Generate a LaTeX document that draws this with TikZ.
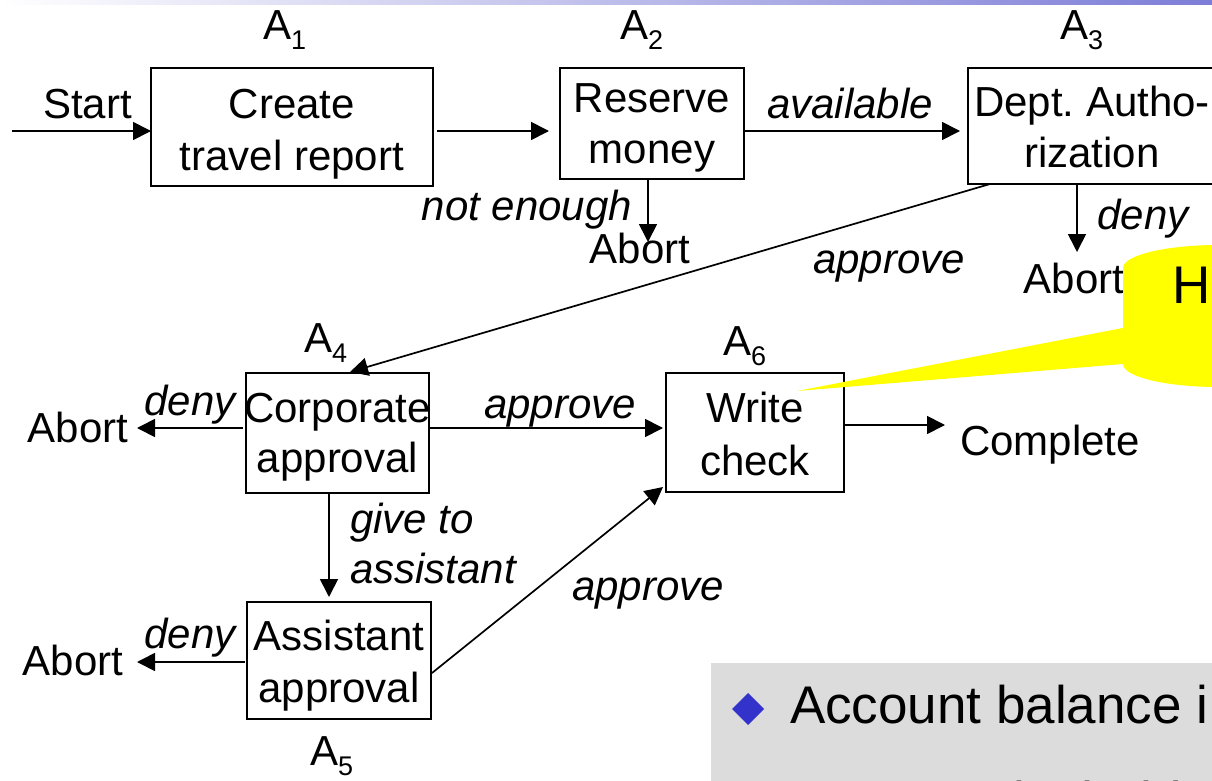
\documentclass[tikz,border=0pt]{standalone}
\usepackage{fontspec}
\setmainfont{Liberation Sans}
\usetikzlibrary{arrows.meta}
\frenchspacing

\definecolor{barblue}{RGB}{125,125,215}
\definecolor{notegray}{RGB}{220,220,220}
\definecolor{bulletblue}{RGB}{51,51,204}
\definecolor{calloutyellow}{RGB}{255,255,0}

\tikzset{
  box/.style={draw, line width=1.8pt, inner sep=0pt, outer sep=0pt},
  txt/.style={inner sep=0pt, outer sep=0pt, font=\fontsize{42}{52}\selectfont},
  lbl/.style={inner sep=0pt, outer sep=0pt, font=\fontsize{42}{52}\selectfont\itshape},
  big/.style={inner sep=0pt, outer sep=0pt, font=\fontsize{53}{62}\selectfont},
  conn/.style={line width=1.7pt, -{Triangle[length=18pt,width=18pt]}},
}
\newcommand{\actname}[1]{A\raisebox{-10pt}{\fontsize{27}{27}\selectfont #1}}

\begin{document}
\begin{tikzpicture}[x=1pt,y=-1pt]
\useasboundingbox (0,0) rectangle (1212,781);
\clip (0,0) rectangle (1212,781);

% header bar
\shade[left color=white, right color=barblue] (0,0) rectangle (1212,5);

% activity boxes
\node[box, minimum width=282pt, minimum height=118pt] (a1) at (292,127) {};
\node[box, minimum width=184pt, minimum height=111pt] (a2) at (652,123.5) {};
\node[box, minimum width=248pt, minimum height=116pt] (a3) at (1092,126) {};
\node[box, minimum width=183pt, minimum height=120pt] (a4) at (337.5,433) {};
\node[box, minimum width=178pt, minimum height=119pt] (a6) at (755,432.5) {};
\node[box, minimum width=184pt, minimum height=117pt] (a5) at (339,660.5) {};

% box texts
\node[txt, anchor=base] (a1t1) at (292,118) {Create};
\node[txt, anchor=base] (a1t2) at (292,170) {travel report};
\node[txt, anchor=base] (a2t1) at (652,113) {Reserve};
\node[txt, anchor=base] (a2t2) at (652,164) {money};
\node[txt, anchor=base] (a3t1) at (1092,117) {Dept.\ Autho-};
\node[txt, anchor=base] (a3t2) at (1092,167) {rization};
\node[txt, anchor=base] (a4t1) at (337.5,422) {Corporate};
\node[txt, anchor=base] (a4t2) at (337.5,472) {approval};
\node[txt, anchor=base] (a6t1) at (755,422) {Write};
\node[txt, anchor=base] (a6t2) at (755,475) {check};
\node[txt, anchor=base] (a5t1) at (339,650) {Assistant};
\node[txt, anchor=base] (a5t2) at (339,702) {approval};

% activity names
\node[txt, anchor=base west] (n1) at (263,40) {\actname{1}};
\node[txt, anchor=base west] (n2) at (620,40) {\actname{2}};
\node[txt, anchor=base west] (n3) at (1060,40) {\actname{3}};
\node[txt, anchor=base west] (n4) at (304,352) {\actname{4}};
\node[txt, anchor=base west] (n6) at (723,355) {\actname{6}};
\node[txt, anchor=base west] (n5) at (310,765) {\actname{5}};

% plain end points
\node[txt, anchor=base east] (start) at (132,118) {Start};
\node[txt, anchor=base] (ab2) at (640,263) {Abort};
\node[txt, anchor=base] (ab3) at (1074,293) {Abort};
\node[txt, anchor=base] (ab4) at (78,442) {Abort};
\node[txt, anchor=base] (ab5) at (73,675) {Abort};
\node[txt, anchor=base west] (done) at (960,455) {Complete};

% edge labels
\node[lbl, anchor=base] (lav) at (850,118) {available};
\node[lbl, anchor=base east] (lne) at (632,220) {not enough};
\node[lbl, anchor=base] (ld3) at (1143,229) {deny};
\node[lbl, anchor=base] (lap3) at (889,273) {approve};
\node[lbl, anchor=base] (ld4) at (190,415) {deny};
\node[lbl, anchor=base] (lap4) at (560,418) {approve};
\node[lbl, anchor=base west] (lg1) at (350,533) {give to};
\node[lbl, anchor=base west] (lg2) at (350,583) {assistant};
\node[lbl, anchor=base west] (lap5) at (572,600) {approve};
\node[lbl, anchor=base] (ld5) at (190,648) {deny};

% connectors
\coordinate (entry) at (12,131);
\draw[conn] (entry) -- (a1.west |- entry);
\draw[conn] ([shift={(4,4)}]a1.east) -- ([shift={(-11,7.5)}]a2.west);
\draw[conn] ([shift={(1,7.5)}]a2.east) -- ([shift={(-8,5)}]a3.west);
\draw[conn] ([shift={(-4,0)}]a2.south) -- ([shift={(8,-21)}]ab2.base);
\draw[conn] ([shift={(-15,0)}]a3.south) -- ([shift={(3,-41)}]ab3.base);
\draw[conn] ([shift={(-102,0)}]a3.south) -- ([shift={(12.5,-1)}]a4.north);
\draw[conn] ([shift={(-3,-5)}]a4.west) -- ([shift={(59,-14)}]ab4.base);
\draw[conn] ([shift={(0,-5)}]a4.east) -- ([shift={(-3,-4.5)}]a6.west);
\draw[conn] ([shift={(-8.5,0)}]a4.south) -- ([shift={(-10,-5)}]a5.north);
\draw[conn] ([shift={(-2,1.5)}]a5.west) -- ([shift={(64,-13)}]ab5.base);
\draw[conn] ([shift={(1,12.5)}]a5.east) -- ([shift={(-3,-5)}]a6.south west);
\draw[conn] ([shift={(0,-7.5)}]a6.east) -- ([shift={(-15,-30)}]done.base west);

% yellow callout with its pointer
\fill[calloutyellow] (1130,326.6) -- (797,391) -- (1130,363.4) -- cycle;
\fill[calloutyellow] (1123,268) .. controls (1123,255.3) and (1165.6,245) .. (1218,245)
  -- (1400,245) -- (1400,387) -- (1218,387)
  .. controls (1165.6,387) and (1123,376.7) .. (1123,364) -- cycle;
\node[big, anchor=base west] (note) at (1172,303) {H};

% grey text panel
\fill[notegray] (711,663) rectangle (1400,900);
\fill[bulletblue] (748,693) -- (764,709) -- (748,725) -- (732,709) -- cycle;
\node[big, anchor=base west] (pt1) at (790,723) {Account balance i};
\node[big, anchor=base west] (pt2) at (790,819) {Some tasks hold NO};
\end{tikzpicture}
\end{document}
